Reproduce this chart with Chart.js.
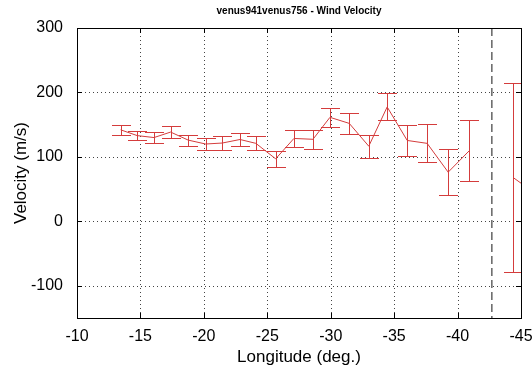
<!DOCTYPE html>
<html>
<head>
<meta charset="utf-8">
<script src="https://cdn.jsdelivr.net/npm/chart.js@4"></script>
<style>
  body { margin: 0; background: #fff; }
  #wrap { width: 532px; height: 375px; }
</style>
</head>
<body>
<div id="wrap"><canvas id="myChart" width="532" height="375"></canvas></div>
<script>
// data
var longitude = [-13.44, -14.75, -16.07, -17.38, -18.77, -20.14, -21.45, -22.85, -24.1, -25.66, -27.1,
  -28.6, -29.94, -31.46, -33.0, -34.45, -36.03, -37.6, -39.26, -40.91, -42.7, -44.38, -46.0];
var velocity = [142, 133, 130, 138.5, 126, 120, 121.5, 127, 121, 97, 128.6,
  127.3, 161.4, 152, 116.6, 177.5, 125.5, 121, 76.3, 109.3, null, 68, 45];
var errors = [8, 7, 8.5, 8.8, 8.6, 9.5, 10.6, 10.5, 11, 12, 13.6,
  15, 15, 16, 18, 21, 23.5, 29.5, 35.7, 47.4, null, 147, null];
var xTicks = [-10, -15, -20, -25, -30, -35, -40, -45];
var yTicks = [-100, 0, 100, 200, 300];
var markerLon = -42.7;

var red = "#d43c3c";
var fontFamily = "'Liberation Sans', Arial, sans-serif";

var points = [];
for (var i = 0; i < longitude.length; i++) {
  points.push({ x: longitude[i], y: velocity[i] });
}

// dotted grid, dashed marker line, error bars, box with inner ticks
const matlabPlugin = {
  id: "matlab",
  beforeDatasetsDraw(chart) {
    const ctx = chart.ctx, a = chart.chartArea;
    const xs = chart.scales.x, ys = chart.scales.y;
    ctx.save();
    ctx.strokeStyle = "#444";
    ctx.lineWidth = 1;
    ctx.setLineDash([1, 3]);
    xTicks.forEach((v) => {
      const px = Math.round(xs.getPixelForValue(v)) + 0.5;
      ctx.beginPath(); ctx.moveTo(px, a.top); ctx.lineTo(px, a.bottom); ctx.stroke();
    });
    yTicks.forEach((v) => {
      const py = Math.round(ys.getPixelForValue(v)) + 0.5;
      ctx.beginPath(); ctx.moveTo(a.left, py); ctx.lineTo(a.right, py); ctx.stroke();
    });
    // dashed vertical marker
    ctx.strokeStyle = "#6e6e6e";
    ctx.lineWidth = 1.6;
    ctx.setLineDash([8, 4]);
    const mx = xs.getPixelForValue(markerLon);
    ctx.beginPath(); ctx.moveTo(mx, a.top); ctx.lineTo(mx, a.bottom); ctx.stroke();
    ctx.restore();
  },
  afterDatasetsDraw(chart) {
    const ctx = chart.ctx, a = chart.chartArea;
    const xs = chart.scales.x, ys = chart.scales.y;
    ctx.save();
    ctx.beginPath();
    ctx.rect(a.left, a.top, a.right - a.left, a.bottom - a.top);
    ctx.clip();
    ctx.strokeStyle = red;
    ctx.lineWidth = 1;
    for (var i = 0; i < longitude.length; i++) {
      if (errors[i] == null || velocity[i] == null) continue;
      const px = Math.round(xs.getPixelForValue(longitude[i])) + 0.5;
      const top = Math.round(ys.getPixelForValue(velocity[i] + errors[i])) + 0.5;
      const bot = Math.round(ys.getPixelForValue(velocity[i] - errors[i])) + 0.5;
      ctx.beginPath();
      ctx.moveTo(px, top); ctx.lineTo(px, bot);
      ctx.moveTo(px - 9.5, top); ctx.lineTo(px + 9.5, top);
      ctx.moveTo(px - 9.5, bot); ctx.lineTo(px + 9.5, bot);
      ctx.stroke();
    }
    ctx.restore();

    // axes box + inward ticks
    ctx.save();
    ctx.strokeStyle = "#000";
    ctx.lineWidth = 1;
    ctx.strokeRect(Math.round(a.left) + 0.5, Math.round(a.top) + 0.5,
      Math.round(a.right - a.left), Math.round(a.bottom - a.top));
    ctx.beginPath();
    xTicks.forEach((v) => {
      const px = Math.round(xs.getPixelForValue(v)) + 0.5;
      ctx.moveTo(px, a.bottom); ctx.lineTo(px, a.bottom - 5);
      ctx.moveTo(px, a.top); ctx.lineTo(px, a.top + 5);
    });
    yTicks.forEach((v) => {
      const py = Math.round(ys.getPixelForValue(v)) + 0.5;
      ctx.moveTo(a.left, py); ctx.lineTo(a.left + 5, py);
      ctx.moveTo(a.right, py); ctx.lineTo(a.right - 5, py);
    });
    ctx.stroke();

    // title
    ctx.fillStyle = "#000";
    ctx.font = "bold 10px " + fontFamily;
    ctx.textAlign = "center";
    ctx.textBaseline = "middle";
    ctx.fillText("venus941venus756 - Wind Velocity", (a.left + a.right) / 2, 11);
    ctx.restore();
  },
};

const data = {
  datasets: [
    {
      data: points,
      borderColor: red,
      borderWidth: 1,
      pointRadius: 0,
      fill: false,
      spanGaps: false,
      tension: 0,
    },
  ],
};

const config = {
  type: "line",
  data: data,
  plugins: [matlabPlugin],
  options: {
    responsive: false,
    animation: false,
    layout: { padding: { top: 28, right: 11, left: 0, bottom: 0 } },
    plugins: {
      legend: { display: false },
      tooltip: { enabled: false },
    },
    scales: {
      x: {
        type: "linear",
        reverse: true,
        min: -45,
        max: -10,
        afterBuildTicks: (scale) => { scale.ticks = xTicks.map((v) => ({ value: v })); },
        afterFit: (scale) => {
          scale.height = 57;
          scale.paddingLeft = 0;
          scale.paddingRight = 0;
        },
        grid: { display: false },
        border: { display: false },
        ticks: {
          padding: 1,
          color: "#000",
          font: { family: fontFamily, size: 16 },
          maxRotation: 0,
        },
        title: {
          display: true,
          text: "Longitude (deg.)",
          color: "#000",
          padding: { top: 0, bottom: 7 },
          font: { family: fontFamily, size: 17 },
        },
      },
      y: {
        min: -150,
        max: 300,
        afterBuildTicks: (scale) => { scale.ticks = yTicks.map((v) => ({ value: v })); },
        afterFit: (scale) => {
          scale.width = 77;
          scale.paddingTop = 0;
          scale.paddingBottom = 0;
        },
        grid: { display: false },
        border: { display: false },
        ticks: {
          padding: 6,
          color: "#000",
          font: { family: fontFamily, size: 16 },
        },
        title: {
          display: true,
          text: "Velocity (m/s)",
          color: "#000",
          padding: { top: 11, bottom: 0 },
          font: { family: fontFamily, size: 17 },
        },
      },
    },
  },
};

const myChart = new Chart(document.getElementById("myChart"), config);
</script>
</body>
</html>
